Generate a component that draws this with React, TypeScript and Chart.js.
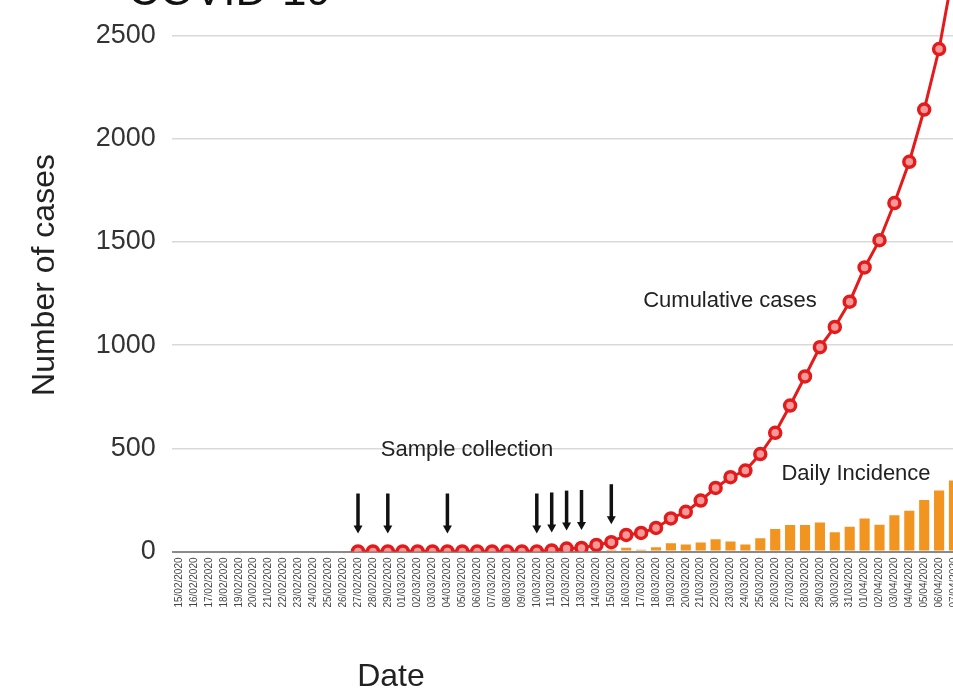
import { useEffect, useRef } from "react";
import { Chart, registerables } from "chart.js";

Chart.register(...registerables);

const dateLabels = [
  "15/02/2020", "16/02/2020", "17/02/2020", "18/02/2020", "19/02/2020", "20/02/2020",
  "21/02/2020", "22/02/2020", "23/02/2020", "24/02/2020", "25/02/2020", "26/02/2020",
  "27/02/2020", "28/02/2020", "29/02/2020", "01/03/2020", "02/03/2020", "03/03/2020",
  "04/03/2020", "05/03/2020", "06/03/2020", "07/03/2020", "08/03/2020", "09/03/2020",
  "10/03/2020", "11/03/2020", "12/03/2020", "13/03/2020", "14/03/2020", "15/03/2020",
  "16/03/2020", "17/03/2020", "18/03/2020", "19/03/2020", "20/03/2020", "21/03/2020",
  "22/03/2020", "23/03/2020", "24/03/2020", "25/03/2020", "26/03/2020", "27/03/2020",
  "28/03/2020", "29/03/2020", "30/03/2020", "31/03/2020", "01/04/2020", "02/04/2020",
  "03/04/2020", "04/04/2020", "05/04/2020", "06/04/2020", "07/04/2020",
];

const cumulativeCases: (number | null)[] = [
  null, null, null, null, null, null, null, null, null, null, null, null,
  0, 0, 0, 0, 0, 0, 0, 0, 0, 0, 0, 0, 0,
  5, 14, 17, 32, 45, 80, 90, 114, 160, 192, 247, 308, 360, 392, 472, 575,
  707, 848, 990, 1088, 1210, 1376, 1508, 1688, 1888, 2141, 2434, 2830,
];

const dailyIncidence = [
  0, 0, 0, 0, 0, 0, 0, 0, 0, 0, 0, 0, 0, 0, 0, 0, 0, 0, 0, 0, 0, 0, 0, 0, 0,
  0, 0, 0, 3, 8, 18, 8, 21, 40, 34, 43, 59, 48, 34, 64, 109, 128, 128, 141, 93,
  120, 160, 130, 176, 197, 250, 296, 344,
];

// indices (dates) of sample collection arrows
const sampleCollectionIdx = [12, 14, 18, 24, 25, 26, 27, 29];

const FONT = "'Liberation Sans', Arial, Helvetica, sans-serif";

const annotate = {
  id: "annotate",
  afterDatasetsDraw(chart: any) {
    const { ctx } = chart;
    const x = chart.scales.x;
    const y = chart.scales.y;
    ctx.save();
    // arrows
    ctx.strokeStyle = "#111";
    ctx.fillStyle = "#111";
    ctx.lineWidth = 3.5;
    sampleCollectionIdx.forEach((i) => {
      const px = x.getPixelForValue(i);
      const tip = y.getPixelForValue(cumulativeCases[i] ?? 0) - 18;
      const tail = tip - 40;
      ctx.beginPath();
      ctx.moveTo(px, tail);
      ctx.lineTo(px, tip - 6);
      ctx.stroke();
      ctx.beginPath();
      ctx.moveTo(px - 4.5, tip - 8);
      ctx.lineTo(px + 4.5, tip - 8);
      ctx.lineTo(px, tip);
      ctx.closePath();
      ctx.fill();
    });

    ctx.fillStyle = "#222";
    ctx.textBaseline = "middle";
    ctx.textAlign = "center";
    ctx.font = `22px ${FONT}`;
    ctx.fillText("Sample collection", 467, 550);
    ctx.fillText("Cumulative cases", 730, 401);
    ctx.fillText("Daily Incidence", 856, 574);

    ctx.font = `32px ${FONT}`;
    ctx.fillText("Date", 391, 777);
    ctx.save();
    ctx.translate(45, 375);
    ctx.rotate(-Math.PI / 2);
    ctx.fillText("Number of cases", 0, 0);
    ctx.restore();

    ctx.textAlign = "left";
    ctx.textBaseline = "alphabetic";
    ctx.font = `44px ${FONT}`;
    ctx.fillStyle = "#111";
    ctx.fillText("COVID-19", 128, 105);
    ctx.restore();
  },
};

export default function App() {
  const ref = useRef<HTMLCanvasElement | null>(null);

  useEffect(() => {
    if (!ref.current) return;
    const chart = new Chart(ref.current, {
      type: "bar",
      data: {
        labels: dateLabels,
        datasets: [
          {
            type: "line",
            label: "Cumulative cases",
            data: cumulativeCases,
            borderColor: "#e31b1b",
            borderWidth: 3,
            pointRadius: 5.5,
            pointBorderWidth: 3.5,
            pointBorderColor: "#e31b1b",
            pointBackgroundColor: "#f59a9a",
            tension: 0,
            order: 0,
          } as any,
          {
            type: "bar",
            label: "Daily Incidence",
            data: dailyIncidence,
            backgroundColor: "#f29420",
            barPercentage: 0.68,
            categoryPercentage: 1,
            order: 1,
          },
        ],
      },
      options: {
        animation: false,
        responsive: true,
        maintainAspectRatio: false,
        layout: { padding: { top: 24.5, left: 0, right: 38.55, bottom: 0 } },
        plugins: { legend: { display: false }, tooltip: { enabled: false }, title: { display: false } },
        scales: {
          x: {
            offset: true,
            grid: { display: false, drawTicks: false },
            border: { display: false },
            ticks: {
              autoSkip: false,
              minRotation: 90,
              maxRotation: 90,
              padding: 6,
              color: "#444",
              font: { size: 10, family: FONT },
            },
            afterFit(scale: any) {
              scale.height = 148.5;
            },
          },
          y: {
            min: 0,
            max: 3000,
            border: { display: false },
            grid: {
              drawTicks: false,
              color: (c: any) => (c.tick && c.tick.value === 0 ? "#8a8a8a" : "#d9d9d9"),
              lineWidth: (c: any) => (c.tick && c.tick.value === 0 ? 2 : 1.5),
            },
            ticks: {
              stepSize: 500,
              padding: 16,
              color: "#333",
              font: { size: 27, family: FONT },
              callback: (v: any) => String(v),
            },
            afterFit(scale: any) {
              scale.width = 171.75;
            },
          },
        },
      },
      plugins: [annotate],
    });
    return () => chart.destroy();
  }, []);

  return (
    <div
      style={{
        position: "fixed",
        left: 0,
        top: 0,
        width: 953,
        height: 691,
        overflow: "hidden",
        background: "#fff",
      }}
    >
      <div style={{ position: "absolute", left: 0, top: -100, width: 1000, height: 800 }}>
        <canvas ref={ref} />
      </div>
    </div>
  );
}
